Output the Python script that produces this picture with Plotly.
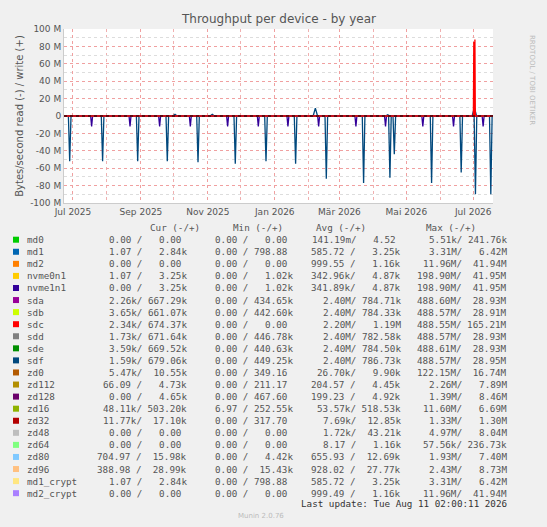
import plotly.graph_objects as go
import datetime as dt

# ---- data ----
devices = ["md0","md1","md2","nvme0n1","nvme1n1","sda","sdb","sdc","sdd","sde","sdf",
           "zd0","zd112","zd128","zd16","zd32","zd48","zd64","zd80","zd96","md1_crypt","md2_crypt"]
colors = ["#00CC00","#0066B3","#FF8000","#FFCC00","#330099","#990099","#CCFF00","#FF0000",
          "#808080","#008F00","#00487D","#B35A00","#B38F00","#6B006B","#8FB300","#B30000",
          "#BEBEBE","#80FF80","#80C9FF","#FFC080","#FFE680","#AA80FF"]
cur = ["0.00 /   0.00","1.07 /   2.84k","0.00 /   0.00","1.07 /   3.25k","0.00 /   3.25k",
       "2.26k/ 667.29k","3.65k/ 661.07k","2.34k/ 674.37k","1.73k/ 671.64k","3.59k/ 669.52k",
       "1.59k/ 679.06k","5.47k/  10.55k","66.09 /   4.73k","0.00 /   4.65k","48.11k/ 503.20k",
       "11.77k/  17.10k","0.00 /   0.00","0.00 /   0.00","704.97 /  15.98k","388.98 /  28.99k",
       "1.07 /   2.84k","0.00 /   0.00"]
mins = ["0.00 /   0.00","0.00 / 798.88","0.00 /   0.00","0.00 /   1.02k","0.00 /   1.02k",
        "0.00 / 434.65k","0.00 / 442.60k","0.00 /   0.00","0.00 / 446.78k","0.00 / 440.63k",
        "0.00 / 449.25k","0.00 / 349.16","0.00 / 211.17","0.00 / 467.60","6.97 / 252.55k",
        "0.00 / 317.70","0.00 /   0.00","0.00 /   0.00","0.00 /   4.42k","0.00 /  15.43k",
        "0.00 / 798.88","0.00 /   0.00"]
avgs = ["141.19m/   4.52","585.72 /   3.25k","999.55 /   1.16k","342.96k/   4.87k","341.89k/   4.87k",
        "2.40M/ 784.71k","2.40M/ 784.33k","2.20M/   1.19M","2.40M/ 782.58k","2.40M/ 784.50k",
        "2.40M/ 786.73k","26.70k/   9.90k","204.57 /   4.45k","199.23 /   4.92k","53.57k/ 518.53k",
        "7.69k/  12.85k","1.72k/  43.21k","8.17 /   1.16k","655.93 /  12.69k","928.02 /  27.77k",
        "585.72 /   3.25k","999.49 /   1.16k"]
maxs = ["5.51k/ 241.76k","3.31M/   6.42M","11.96M/  41.94M","198.90M/  41.95M","198.90M/  41.95M",
        "488.60M/  28.93M","488.57M/  28.91M","488.55M/ 165.21M","488.57M/  28.93M","488.61M/  28.93M",
        "488.57M/  28.95M","122.15M/  16.74M","2.26M/   7.89M","1.39M/   8.46M","11.60M/   6.69M",
        "1.33M/   1.30M","4.97M/   8.04M","57.56k/ 236.73k","1.93M/   7.40M","2.43M/   8.73M",
        "3.31M/   6.42M","11.96M/  41.94M"]

# spike events: (day offset from 2025-07-01, value in bytes/s)
sdf_read_days = [-3,27,59,86,114,148,176,203,231,265,289,293,327,354,367,381]
sdf_read_vals = [-52e6,-52e6,-52e6,-52e6,-53e6,-55e6,-52e6,-55e6,-72e6,-77e6,-71e6,-44e6,-77e6,-65e6,-90e6,-90e6]
sda_read_days = [17,52,79,107,141,169,196,224,258,285,319,347,374]
sda_read_vals = [-12e6]*13
sdf_write_days = [93,127,221,287,366]
sdf_write_vals = [2e6,2e6,9e6,1.5e6,10e6]
sdc_write_days = [365.5,366,366.5]
sdc_write_vals = [85e6,60e6,88e6]

base = dt.datetime(2025,7,1)
xstart = base + dt.timedelta(days=-8.2)
xend = base + dt.timedelta(days=383)

def spikes(days, vals, w=0.9):
    xs, ys = [xstart], [0]
    for d, v in zip(days, vals):
        xs += [base+dt.timedelta(days=d-w), base+dt.timedelta(days=d), base+dt.timedelta(days=d+w)]
        ys += [0, v, 0]
    xs.append(xend); ys.append(0)
    return xs, ys

fig = go.Figure()
fig.add_trace(go.Scatter(x=[xstart,xend], y=[0,0], mode="lines", line=dict(color="#FFCC00", width=1.5)))
for days, vals, c, w in [(sda_read_days, sda_read_vals, "#330099", 0.9),
                         (sdf_read_days, sdf_read_vals, "#00487D", 1.2),
                         (sdf_write_days, sdf_write_vals, "#00487D", 2.0),
                         (sdc_write_days, sdc_write_vals, "#FF0000", 0.4)]:
    xs, ys = spikes(days, vals, w)
    fig.add_trace(go.Scatter(x=xs, y=ys, mode="lines", line=dict(color=c, width=1.3)))
fig.add_trace(go.Scatter(x=[xstart,xend], y=[0,0], mode="lines", line=dict(color="#000000", width=1, dash="dot")))

W, H = 547, 527
L, R, T, B = 64, 493, 29, 203
def px(x): return (x-L)/(R-L)
def py(y): return (B-y)/(B-T)

ann = []
mono = "DejaVu Sans Mono"
FS = 9.25
TC = "#555"
def A(x, y, text, **kw):
    d = dict(x=px(x), y=py(y), xref="paper", yref="paper", text=text, showarrow=False, yanchor="middle")
    d.update(kw)
    ann.append(d)

def fmt(s):
    if s[-1].isdigit():
        s = s + " "
    return s.replace(" ", "\u00a0")

A(278, 19, "Throughput per device - by year", font=dict(family="DejaVu Sans", size=12, color="#555"))
A(538, 80, "RRDTOOL / TOBI OETIKER", textangle=90, font=dict(family="DejaVu Sans", size=7, color="#bbb"))
for t, cx in [("Cur (-/+)",148),("Min (-/+)",258),("Avg (-/+)",368),("Max (-/+)",478)]:
    A(cx, 227.5, t, font=dict(family=mono, size=FS, color=TC))
shapes = []
for i, n in enumerate(devices):
    y = 239.7 + i*12.07
    shapes.append(dict(type="rect", xref="paper", yref="paper", x0=px(13), x1=px(19),
                       y0=py(y+3), y1=py(y-3), fillcolor=colors[i], line=dict(width=0)))
    A(25, y, n, xanchor="left", font=dict(family=mono, size=FS, color=TC))
    for col, xr in [(cur,189),(mins,295),(avgs,403),(maxs,509)]:
        A(xr, y, fmt(col[i]), xanchor="right", font=dict(family=mono, size=FS, color=TC))
A(509, 503.5, "Last update: Tue Aug 11 02:00:11 2026".replace(" ", "\u00a0"), xanchor="right", font=dict(family=mono, size=FS, color="#333"))
A(261, 516, "Munin 2.0.76", font=dict(family="DejaVu Sans", size=7, color="#bbb"))

fig.update_layout(width=W, height=H, margin=dict(l=L, r=W-R, t=T, b=H-B, autoexpand=False),
                  paper_bgcolor="#F0F0F0", plot_bgcolor="white", showlegend=False,
                  annotations=ann, shapes=shapes)
fig.update_xaxes(range=[xstart, xend], type="date", automargin=False, tickvals=[dt.datetime(2025,7,1),dt.datetime(2025,9,1),
                 dt.datetime(2025,11,1),dt.datetime(2026,1,1),dt.datetime(2026,3,1),dt.datetime(2026,5,1),dt.datetime(2026,7,1)],
                 ticktext=["Jul 2025","Sep 2025","Nov 2025","Jan 2026","Mär 2026","Mai 2026","Jul 2026"],
                 showgrid=True, gridcolor="#F0A0A0", griddash="dot", gridwidth=1,
                 minor=dict(dtick="M1", showgrid=True, gridcolor="#F0B0B0", griddash="dot"),
                 tickfont=dict(family="DejaVu Sans", size=9, color="#555"), showline=True, linecolor="#ccc", zeroline=False)
fig.update_yaxes(range=[-100e6, 100e6], automargin=False, tickvals=[i*20e6 for i in range(-5,6)],
                 ticktext=[f"{i*20} M" if i else "0" for i in range(-5,6)],
                 showgrid=True, gridcolor="#F0A0A0", griddash="dot",
                 minor=dict(dtick=10e6, showgrid=True, gridcolor="#DDDDDD", griddash="dot"),
                 title=dict(text="Bytes/second read (-) / write (+)", font=dict(family="DejaVu Sans", size=10, color="#555"), standoff=4),
                 tickfont=dict(family="DejaVu Sans", size=9, color="#555"), showline=True, linecolor="#ccc", zeroline=False)
fig.write_html("out.html", config={"displayModeBar": False},
               post_script="document.body.style.margin='0';document.body.style.overflow='hidden';")
